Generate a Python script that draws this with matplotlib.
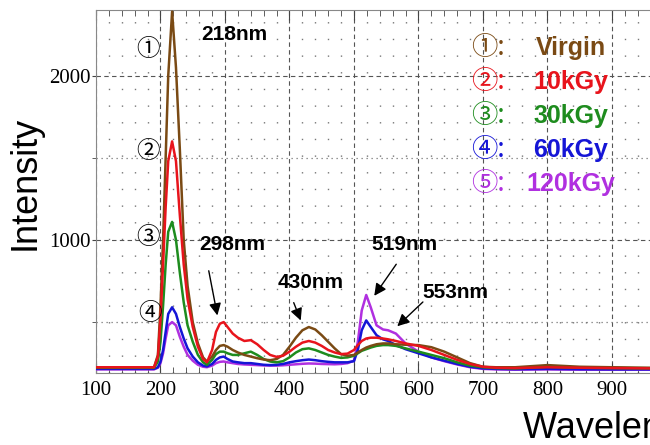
import matplotlib
matplotlib.use("Agg")
from matplotlib import pyplot as plt
from matplotlib.ticker import MultipleLocator

# wavelength grid (nm)
wl = [100, 190, 196, 200, 204, 208, 212, 218, 224, 230,
      236, 242, 250, 258, 266, 272, 280, 286, 292, 298,
      304, 312, 320, 330, 340, 350, 360, 370, 380, 390,
      400, 410, 420, 430, 440, 450, 460, 470, 480, 490,
      500, 506, 512, 519, 526, 535, 545, 553, 565, 580,
      600, 620, 640, 660, 680, 700, 720, 750, 800, 850,
      900, 960]

virgin = [225, 225, 300, 600, 1000, 1500, 2000, 2390, 2050, 1550,
          1000, 720, 500, 370, 285, 260, 290, 330, 355, 360,
          350, 330, 315, 300, 290, 280, 272, 268, 275, 300,
          350, 405, 450, 470, 455, 420, 380, 340, 305, 295,
          300, 315, 330, 345, 355, 365, 370, 370, 365, 362,
          360, 347, 320, 285, 250, 228, 225, 225, 238, 228,
          225, 222]

kgy10 = [225, 225, 290, 520, 850, 1200, 1480, 1600, 1480, 1150,
         850, 640, 470, 350, 275, 255, 330, 440, 490, 500,
         470, 430, 405, 385, 390, 365, 330, 300, 288, 295,
         320, 350, 375, 385, 375, 355, 330, 315, 305, 308,
         330, 360, 385, 400, 405, 405, 400, 395, 385, 370,
         355, 330, 300, 270, 245, 228, 222, 220, 225, 222,
         220, 218]

kgy30 = [222, 222, 260, 380, 600, 850, 1050, 1110, 1000, 800,
         620, 480, 380, 300, 255, 240, 270, 305, 320, 320,
         310, 300, 300, 310, 320, 300, 275, 260, 255, 262,
         285, 315, 335, 340, 330, 315, 300, 290, 282, 285,
         295, 310, 325, 335, 345, 355, 360, 360, 355, 340,
         320, 300, 280, 255, 235, 225, 220, 218, 228, 222,
         220, 218]

kgy60 = [215, 215, 225, 260, 330, 440, 550, 590, 550, 470,
         400, 340, 290, 255, 235, 230, 245, 270, 285, 290,
         275, 260, 255, 250, 250, 245, 240, 238, 240, 245,
         255, 262, 268, 272, 268, 262, 258, 255, 255, 255,
         262, 330, 450, 510, 470, 420, 395, 385, 360, 335,
         310, 285, 265, 245, 228, 218, 215, 213, 215, 213,
         212, 212]

kgy120 = [212, 212, 222, 250, 310, 400, 480, 500, 480, 410,
          350, 300, 265, 240, 228, 225, 235, 250, 258, 260,
          255, 250, 245, 242, 240, 238, 236, 235, 235, 237,
          240, 243, 246, 248, 247, 245, 244, 243, 245, 250,
          265, 380, 570, 665, 590, 480, 455, 450, 430, 370,
          320, 285, 262, 242, 225, 215, 212, 210, 212, 210,
          210, 210]

names = ["Virgin", "10kGy", "30kGy", "60kGy", "120kGy"]
marks = ["①", "②", "③", "④", "⑤"]
colors = ["#7a4a14", "#e8141c", "#1e8c1e", "#1515d6", "#b030e0"]

fig = plt.figure(figsize=(6.5, 4.45), dpi=100)
ax = fig.add_axes([0.1477, 0.1618, 0.8523, 0.8157])

# draw order: lighter traces underneath
series = [virgin, kgy10, kgy30, kgy60, kgy120]
for k in [4, 3, 2, 0, 1]:
    ax.plot(wl, series[k], color=colors[k], lw=1.8, zorder=3)

ax.set_xlim(100, 959)
ax.set_ylim(190, 2400)

ax.xaxis.set_major_locator(MultipleLocator(100))
ax.xaxis.set_minor_locator(MultipleLocator(20))
ax.set_yticks([1000, 2000])
ax.yaxis.set_minor_locator(MultipleLocator(500))

ax.grid(which="major", color="#555555", ls=(0, (4, 3)), lw=0.8)
ax.grid(which="minor", axis="x", color="#777777", ls=(0, (1, 11)), lw=1.0)
ax.grid(which="minor", axis="y", color="#777777", ls=(0, (1, 3)), lw=0.9)

ax.tick_params(axis="x", which="both", direction="in", top=True, length=4, color="#444444")
ax.tick_params(axis="x", which="major", length=7, pad=6)
ax.tick_params(axis="y", which="both", direction="out", length=3, pad=1, color="#444444")
for s in ["left", "bottom", "top"]:
    ax.spines[s].set_color("#888888")
ax.spines["right"].set_visible(False)

for lab in ax.get_xticklabels() + ax.get_yticklabels():
    lab.set_family("Liberation Serif")
    lab.set_fontsize(15)

# circled peak marks on the left
sym_font = ["Noto Sans CJK SC", "DejaVu Sans"]
ax.text(181, 2158, "①", fontsize=17, family=sym_font, ha="center", va="center")
ax.text(181, 1537, "②", fontsize=17, family=sym_font, ha="center", va="center")
ax.text(181, 1012, "③", fontsize=17, family=sym_font, ha="center", va="center")
ax.text(184, 555, "④", fontsize=17, family=sym_font, ha="center", va="center")

# legend rows
rows_y = [2171, 1963, 1756, 1549, 1341]
for k in range(5):
    ax.text(708, rows_y[k], marks[k] + ":", fontsize=19, family=sym_font,
            color=colors[k], ha="center", va="center")
    ax.text(836, rows_y[k], names[k], fontsize=18, family="Liberation Sans",
            weight="bold", color=colors[k], ha="center", va="center")

lab_kw = dict(fontsize=15, family="Liberation Sans", weight="bold", ha="center", va="center")
ax.text(314, 2250, "218nm", **lab_kw)
arr = dict(arrowstyle="-|>", color="black", lw=1.0, mutation_scale=18)
ax.annotate("", xy=(289, 524), xytext=(274, 829), arrowprops=arr)
ax.text(311, 970, "298nm", **lab_kw)
ax.annotate("", xy=(419, 494), xytext=(405, 634), arrowprops=arr)
ax.text(433, 738, "430nm", **lab_kw)
ax.annotate("", xy=(529, 646), xytext=(568, 866), arrowprops=arr)
ax.text(579, 970, "519nm", **lab_kw)
ax.annotate("", xy=(564, 463), xytext=(610, 634), arrowprops=arr)
ax.text(657, 683, "553nm", **lab_kw)

fig.text(25 / 650, 1 - 183 / 445, "Intensity", rotation=90, fontsize=26,
         family="Liberation Sans", ha="center", va="center")
# the reference is cropped here, so the label runs off the right edge
fig.text(523 / 650, 1 - 438 / 445, "Wavelength (nm)", fontsize=26,
         family="Liberation Sans", ha="left", va="baseline")

fig.savefig("out.png", dpi=100)
